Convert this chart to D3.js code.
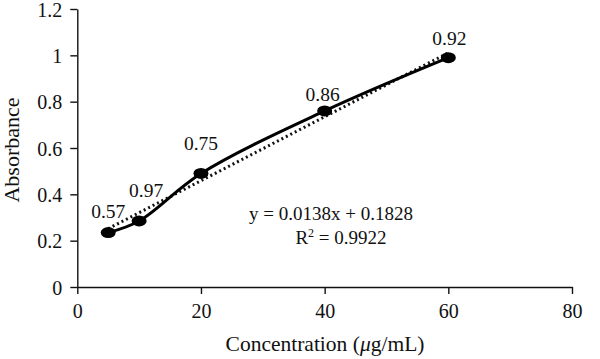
<!DOCTYPE html>
<html>
<head>
<meta charset="utf-8">
<script src="https://cdn.jsdelivr.net/npm/d3@7"></script>
<style>
  body { margin: 0; background: #fff; }
  text { font-family: "Liberation Serif", "DejaVu Serif", serif; fill: #111; }
</style>
</head>
<body>
<div id="svg-container"></div>
<script>
// Data
const concentrations = [5, 10, 20, 40, 60];
const absorbances = [0.235, 0.285, 0.49, 0.76, 0.99];
const pointLabels = ["0.57", "0.97", "0.75", "0.86", "0.92"];
const xTicks = [0, 20, 40, 60, 80];
const yTicks = [0, 0.2, 0.4, 0.6, 0.8, 1, 1.2];
const trendSlope = 0.0138;
const trendIntercept = 0.1828;
const equationLines = ["y = 0.0138x + 0.1828", "R2 = 0.9922"];

// label nudges (dx, dy) relative to each point
const labelOffsets = [[0, -15], [7, -24], [0, -23], [-2, -10], [1, -13]];

const width = 600, height = 359;

const svg = d3.select("#svg-container")
    .append("svg")
    .attr("width", width)
    .attr("height", height);

const x = d3.scaleLinear().domain([0, 80]).range([77.3, 572]);
const y = d3.scaleLinear().domain([0, 1.2]).range([287, 9]);

// Axes
const xAxis = svg.append("g")
    .attr("transform", `translate(0, ${y(0)})`)
    .call(d3.axisBottom(x).tickValues(xTicks).tickSizeInner(7).tickSizeOuter(0).tickPadding(10)
        .tickFormat(d3.format("d")));

const yAxis = svg.append("g")
    .attr("transform", `translate(${x(0)}, 0)`)
    .call(d3.axisLeft(y).tickValues(yTicks).tickSizeInner(7).tickSizeOuter(0).tickPadding(8)
        .tickFormat(d => d3.format("")(d)));

[xAxis, yAxis].forEach(a => {
    a.attr("font-family", null).attr("font-size", null);
    a.select(".domain").attr("stroke", "#111").attr("stroke-width", 1.4);
    a.selectAll(".tick line").attr("stroke", "#111").attr("stroke-width", 1.4);
    a.selectAll(".tick text")
        .style("font-family", "'Liberation Serif', serif")
        .style("font-size", "20px")
        .style("fill", "#111");
});
yAxis.selectAll(".tick text").attr("dy", "0.36em");

// Axis titles
const xTitle = svg.append("text")
    .attr("x", 325)
    .attr("y", 351)
    .attr("text-anchor", "middle")
    .attr("font-size", "21.5px");
xTitle.append("tspan").text("Concentration (");
xTitle.append("tspan").attr("font-style", "italic").text("\u03bc");
xTitle.append("tspan").text("g/mL)");

svg.append("text")
    .attr("transform", "translate(19, 150) rotate(-90)")
    .attr("text-anchor", "middle")
    .attr("font-size", "22px")
    .text("Absorbance");

// Linear trendline (dotted)
const trendX = d3.extent(concentrations);
svg.append("line")
    .attr("x1", x(trendX[0]))
    .attr("y1", y(trendSlope * trendX[0] + trendIntercept))
    .attr("x2", x(trendX[1]))
    .attr("y2", y(trendSlope * trendX[1] + trendIntercept))
    .attr("stroke", "#111")
    .attr("stroke-width", 3)
    .attr("stroke-dasharray", "2,3");

// Smoothed data line
const points = concentrations.map((c, i) => ({ c: c, a: absorbances[i], label: pointLabels[i] }));

const line = d3.line()
    .x(d => x(d.c))
    .y(d => y(d.a))
    .curve(d3.curveCatmullRom.alpha(0.5));

svg.append("path")
    .datum(points)
    .attr("d", line)
    .attr("fill", "none")
    .attr("stroke", "#000")
    .attr("stroke-width", 3);

// Markers
svg.selectAll("ellipse.pt")
    .data(points)
    .enter()
    .append("ellipse")
    .attr("class", "pt")
    .attr("cx", d => x(d.c))
    .attr("cy", d => y(d.a))
    .attr("rx", 7.5)
    .attr("ry", 5.5)
    .attr("fill", "#000");

// Point labels
svg.selectAll("text.pt-label")
    .data(points)
    .enter()
    .append("text")
    .attr("class", "pt-label")
    .attr("x", (d, i) => x(d.c) + labelOffsets[i][0])
    .attr("y", (d, i) => y(d.a) + labelOffsets[i][1])
    .attr("text-anchor", "middle")
    .attr("font-size", "19.5px")
    .text(d => d.label);

// Regression equation
svg.append("text")
    .attr("x", 331)
    .attr("y", 220)
    .attr("text-anchor", "middle")
    .attr("font-size", "19px")
    .text(equationLines[0]);

const r2 = svg.append("text")
    .attr("x", 341)
    .attr("y", 244)
    .attr("text-anchor", "middle")
    .attr("font-size", "19px");
r2.append("tspan").text("R");
r2.append("tspan").attr("font-size", "12px").attr("dy", "-7").text("2");
r2.append("tspan").attr("dy", "7").text(" = 0.9922");
</script>
</body>
</html>
